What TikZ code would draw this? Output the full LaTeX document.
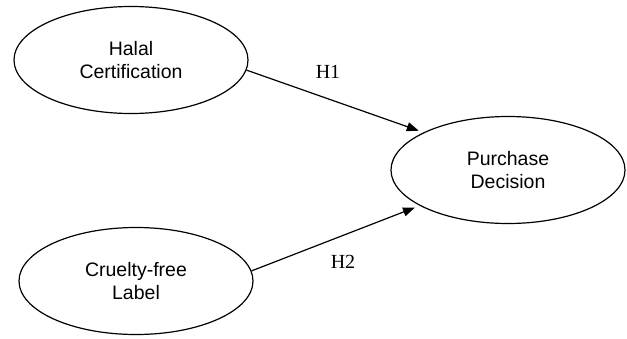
\documentclass[tikz,border=0pt]{standalone}
\usepackage{fontspec}
\setmainfont{Liberation Serif}
\newfontfamily\constructfont{Liberation Sans}
\usetikzlibrary{shapes.geometric,arrows.meta}

\begin{document}
\begin{tikzpicture}[x=1pt,y=-1pt,line width=1.2pt]
    \tikzstyle{construct}=[ellipse,draw,minimum width=234pt,minimum height=107pt,inner sep=0pt,align=center,font=\constructfont\fontsize{19.5}{23}\selectfont]
    \tikzstyle{hypothesis}=[-{Triangle[length=12pt,width=9pt]},shorten >=5pt]
    \tikzstyle{hyp label}=[font=\fontsize{20}{24}\selectfont]

    \useasboundingbox (0,0) rectangle (627,338);

    % Draw the independent constructs
    \node[construct] (halal) at (131,60) {Halal\\Certification};
    \node[construct] (cruelty) at (136,281) {Cruelty-free\\Label};

    % Draw the dependent construct
    \node[construct] (purchase) at (508,170) {Purchase\\Decision};

    % Connect every independent construct with the dependent one
    \draw[hypothesis] (halal.-5) -- (purchase.156);
    \draw[hypothesis] (cruelty.5) -- (purchase.202);

    % Hypothesis labels
    \node[hyp label] (h1) at (328,72) {H1};
    \node[hyp label] (h2) at (343,262) {H2};
\end{tikzpicture}
\end{document}
